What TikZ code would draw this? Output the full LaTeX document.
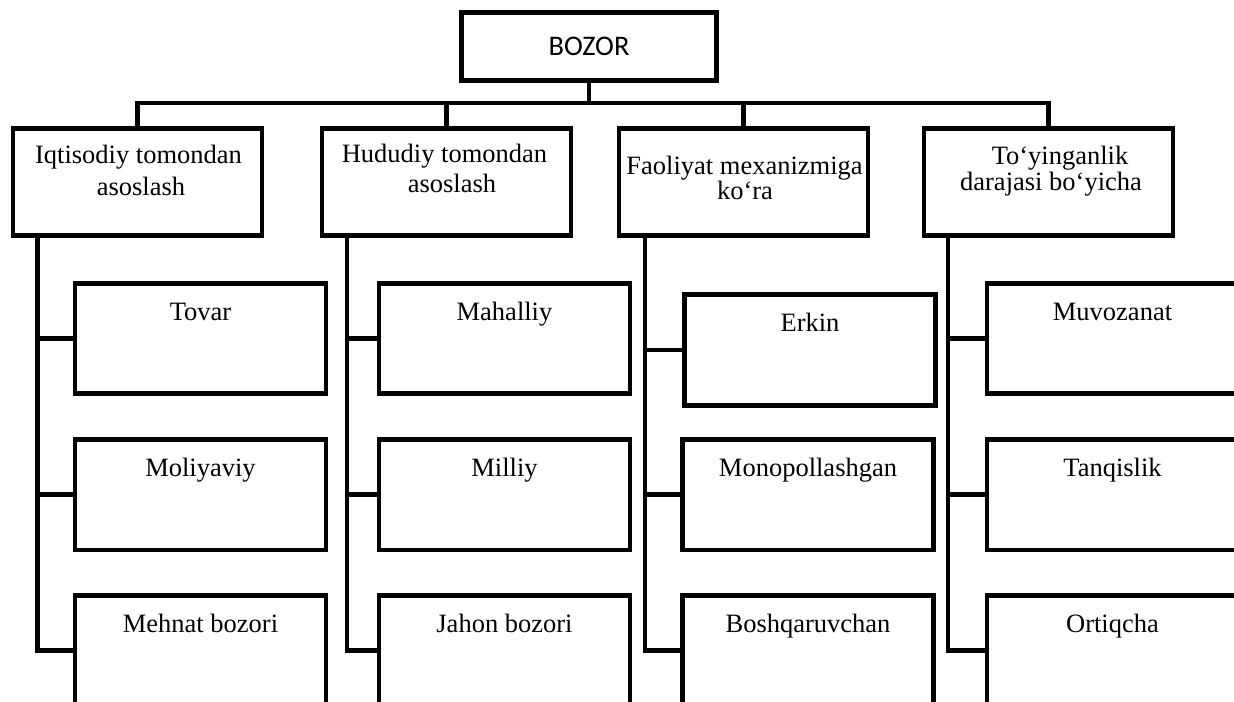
\documentclass[tikz,border=0pt]{standalone}
\usepackage{fontspec}
\setmainfont{Liberation Serif}
\newfontfamily\bozorfont{Carlito}
\begin{document}
\begin{tikzpicture}[x=0.5pt, y=-0.5pt,
	box/.style={draw, line width=2.4pt, inner sep=0pt},
	topbox/.style={box, minimum width=127.5pt, minimum height=34.25pt, font=\bozorfont\fontsize{14.2pt}{17pt}\selectfont},
	groupbox/.style={box, minimum width=124.5pt, minimum height=53.7pt},
	itembox/.style={box, minimum width=125.5pt, minimum height=55.2pt},
	txt/.style={anchor=base, inner sep=0pt, font=\fontsize{13.25pt}{16pt}\selectfont},
	line/.style={line width=2.4pt}]
	\useasboundingbox (0,0) rectangle (1234,701);
	\clip (0,0) rectangle (1234,701);

	\node[topbox] (bozor) at (589,46.5) {BOZOR};

	\node[groupbox] (iqt) at (137.5,182) {};
	\node[groupbox] (hud) at (446.5,182) {};
	\node[groupbox] (fao) at (743.5,182) {};
	\node[groupbox] (toy) at (1048.5,182) {};
	\node[txt] (iqtA) at (138.5,163) {Iqtisodiy tomondan};
	\node[txt] (iqtB) at (141,195) {asoslash};
	\node[txt] (hudA) at (444.5,162) {Hududiy tomondan};
	\node[txt] (hudB) at (452,192) {asoslash};
	\node[txt] (faoA) at (744.5,174) {Faoliyat mexanizmiga};
	\node[txt] (faoB) at (745,199) {ko‘ra};
	\node[txt] (toyA) at (1060,164) {To‘yinganlik};
	\node[txt] (toyB) at (1051,190) {darajasi bo‘yicha};

	\coordinate (bus) at (589,103);
	\draw[line] (bozor) -- (bus);
	\draw[line] (iqt.north) |- (bus) -| (toy.north);
	\draw[line] (hud) -- (hud |- bus);
	\draw[line] (fao) -- (fao |- bus);

	\node[itembox] (tovar) at (200.5,338.5) {};
	\node[itembox] (moliya) at (200.5,494.75) {};
	\node[itembox] (mehnat) at (200.5,650.75) {};
	\node[itembox] (mahal) at (504.5,338.5) {};
	\node[itembox] (milliy) at (504.5,494.75) {};
	\node[itembox] (jahon) at (504.5,650.75) {};
	\node[itembox] (erkin) at (810,350) {};
	\node[itembox] (monop) at (808,494.75) {};
	\node[itembox] (boshq) at (808,650.75) {};
	\node[itembox] (muvoz) at (1112.5,338.5) {};
	\node[itembox] (tanq) at (1112.5,494.75) {};
	\node[itembox] (ortiq) at (1112.5,650.75) {};

	\node[txt] (tovarT) at (200.5,320) {Tovar};
	\node[txt] (moliyaT) at (200.5,476) {Moliyaviy};
	\node[txt] (mehnatT) at (200.5,632) {Mehnat bozori};
	\node[txt] (mahalT) at (504.5,320) {Mahalliy};
	\node[txt] (milliyT) at (504.5,476) {Milliy};
	\node[txt] (jahonT) at (504.5,632) {Jahon bozori};
	\node[txt] (erkinT) at (810,331) {Erkin};
	\node[txt] (monopT) at (808,476) {Monopollashgan};
	\node[txt] (boshqT) at (808,632) {Boshqaruvchan};
	\node[txt] (muvozT) at (1112.5,320) {Muvozanat};
	\node[txt] (tanqT) at (1112.5,476) {Tanqislik};
	\node[txt] (ortiqT) at (1112.5,632) {Ortiqcha};

	\coordinate (v1) at (37.5,236);
	\coordinate (v2) at (347,236);
	\coordinate (v3) at (645,236);
	\coordinate (v4) at (948,236);
	\draw[line] (v1) |- (mehnat.west);
	\draw[line] (tovar) -- (tovar -| v1);
	\draw[line] (moliya) -- (moliya -| v1);
	\draw[line] (v2) |- (jahon.west);
	\draw[line] (mahal) -- (mahal -| v2);
	\draw[line] (milliy) -- (milliy -| v2);
	\draw[line] (v3) |- (boshq.west);
	\draw[line] (erkin) -- (erkin -| v3);
	\draw[line] (monop) -- (monop -| v3);
	\draw[line] (v4) |- (ortiq.west);
	\draw[line] (muvoz) -- (muvoz -| v4);
	\draw[line] (tanq) -- (tanq -| v4);
\end{tikzpicture}
\end{document}
